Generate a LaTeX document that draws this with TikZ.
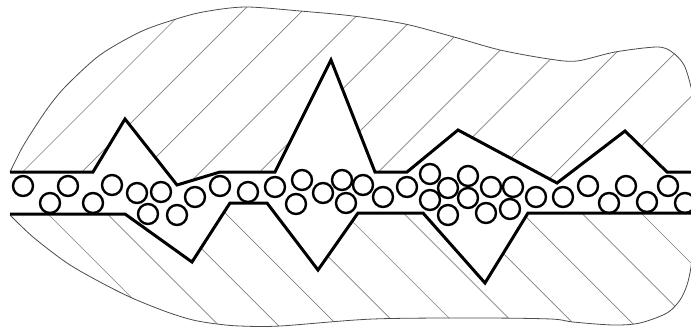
\documentclass[tikz,border=0pt]{standalone}
\begin{document}
\begin{tikzpicture}[x=1pt,y=-1pt,
  wall/.style={line width=3pt, black, line join=miter},
  grain/.style={line width=2.4pt, black},
  hatchline/.style={line width=0.7pt, black!50},
  outline/.style={line width=0.8pt, black!70}]
\useasboundingbox (0,0) rectangle (691,327);
\clip (0,0) rectangle (691,327);

% corners of the upper wall of the channel
\coordinate (a0) at (10,172);
\coordinate (a1) at (93,172);
\coordinate (a2) at (125,119);
\coordinate (a3) at (177,185);
\coordinate (a4) at (220,172);
\coordinate (a5) at (275,172);
\coordinate (a6) at (331,60);
\coordinate (a7) at (375,172);
\coordinate (a8) at (407,172);
\coordinate (a9) at (458,130);
\coordinate (a10) at (557,183);
\coordinate (a11) at (625,131);
\coordinate (a12) at (667,172);
\coordinate (a13) at (700,172);

% corners of the lower wall of the channel
\coordinate (b0) at (10,214);
\coordinate (b1) at (125,214);
\coordinate (b2) at (192,262);
\coordinate (b3) at (230,203);
\coordinate (b4) at (267,203);
\coordinate (b5) at (318,270);
\coordinate (b6) at (358,213);
\coordinate (b7) at (423,213);
\coordinate (b8) at (485,283);
\coordinate (b9) at (528,213);
\coordinate (b10) at (700,213);

% hatching of the upper body
\begin{scope}
  \clip plot[smooth] coordinates {(10,172) (22,148) (35,127) (50,105) (67,85)
    (100,55) (140,32) (173,20) (203,12) (245,7) (300,11) (353,16) (405,24)
    (454,37) (500,50) (549,59) (577,61) (615,52) (657,47) (672,52) (684,65)
    (691,87) (695,110)}
    -- (700,110) -- (a13) -- (a12) -- (a11) -- (a10) -- (a9) -- (a8) -- (a7)
    -- (a6) -- (a5) -- (a4) -- (a3) -- (a2) -- (a1) -- (a0) -- cycle;
  \foreach \k in {0,...,10} {
    \pgfmathsetmacro\c{194.5+59.3*\k}
    \draw[hatchline] (\c+20,-20) -- (\c-400,400);
  }
\end{scope}

% hatching of the lower body
\begin{scope}
  \clip plot[smooth] coordinates {(10,215) (33,237) (67,263) (100,282)
    (132,298) (167,312) (193,320) (217,324) (240,326) (280,326) (373,319)
    (480,318) (551,319) (573,322) (613,325) (640,323) (667,313) (680,300)
    (687,285) (691,267) (694,240)}
    -- (700,240) -- (b10) -- (b9) -- (b8) -- (b7) -- (b6) -- (b5) -- (b4)
    -- (b3) -- (b2) -- (b1) -- (b0) -- cycle;
  \foreach \k in {0,...,10} {
    \pgfmathsetmacro\d{166-59.4*\k}
    \draw[hatchline] (-20,\d-20) -- (720,\d+720);
  }
\end{scope}

% outer contours
\draw[outline] plot[smooth] coordinates {(10,172) (22,148) (35,127) (50,105)
  (67,85) (100,55) (140,32) (173,20) (203,12) (245,7) (300,11) (353,16)
  (405,24) (454,37) (500,50) (549,59) (577,61) (615,52) (657,47) (672,52)
  (684,65) (691,87) (695,110)};
\draw[outline] plot[smooth] coordinates {(10,215) (33,237) (67,263) (100,282)
  (132,298) (167,312) (193,320) (217,324) (240,326) (280,326) (373,319)
  (480,318) (551,319) (573,322) (613,325) (640,323) (667,313) (680,300)
  (687,285) (691,267) (694,240)};

% channel walls
\draw[wall] (a0) -- (a1) -- (a2) -- (a3) -- (a4) -- (a5) -- (a6) -- (a7)
  -- (a8) -- (a9) -- (a10) -- (a11) -- (a12) -- (a13);
\draw[wall] (b0) -- (b1) -- (b2) -- (b3) -- (b4) -- (b5) -- (b6) -- (b7)
  -- (b8) -- (b9) -- (b10);

% particles in the channel
\foreach \px/\py in {23/186, 50/203, 68/186, 93/203, 112/185, 137/193,
  161/192, 148/214, 177/215, 195/197, 220/186, 248/192, 275/187, 296/204,
  302/180, 323/193, 342/180, 346/203, 363/185, 383/197, 407/187, 430/174,
  430/200, 448/188, 448/215, 468/176, 468/198, 491/187, 486/213, 513/187,
  510/209, 536/197, 563/197, 588/186, 609/203, 626/186, 647/202, 668/186,
  685/203}
  \draw[grain] (\px,\py) circle[radius=10pt];
\end{tikzpicture}
\end{document}
